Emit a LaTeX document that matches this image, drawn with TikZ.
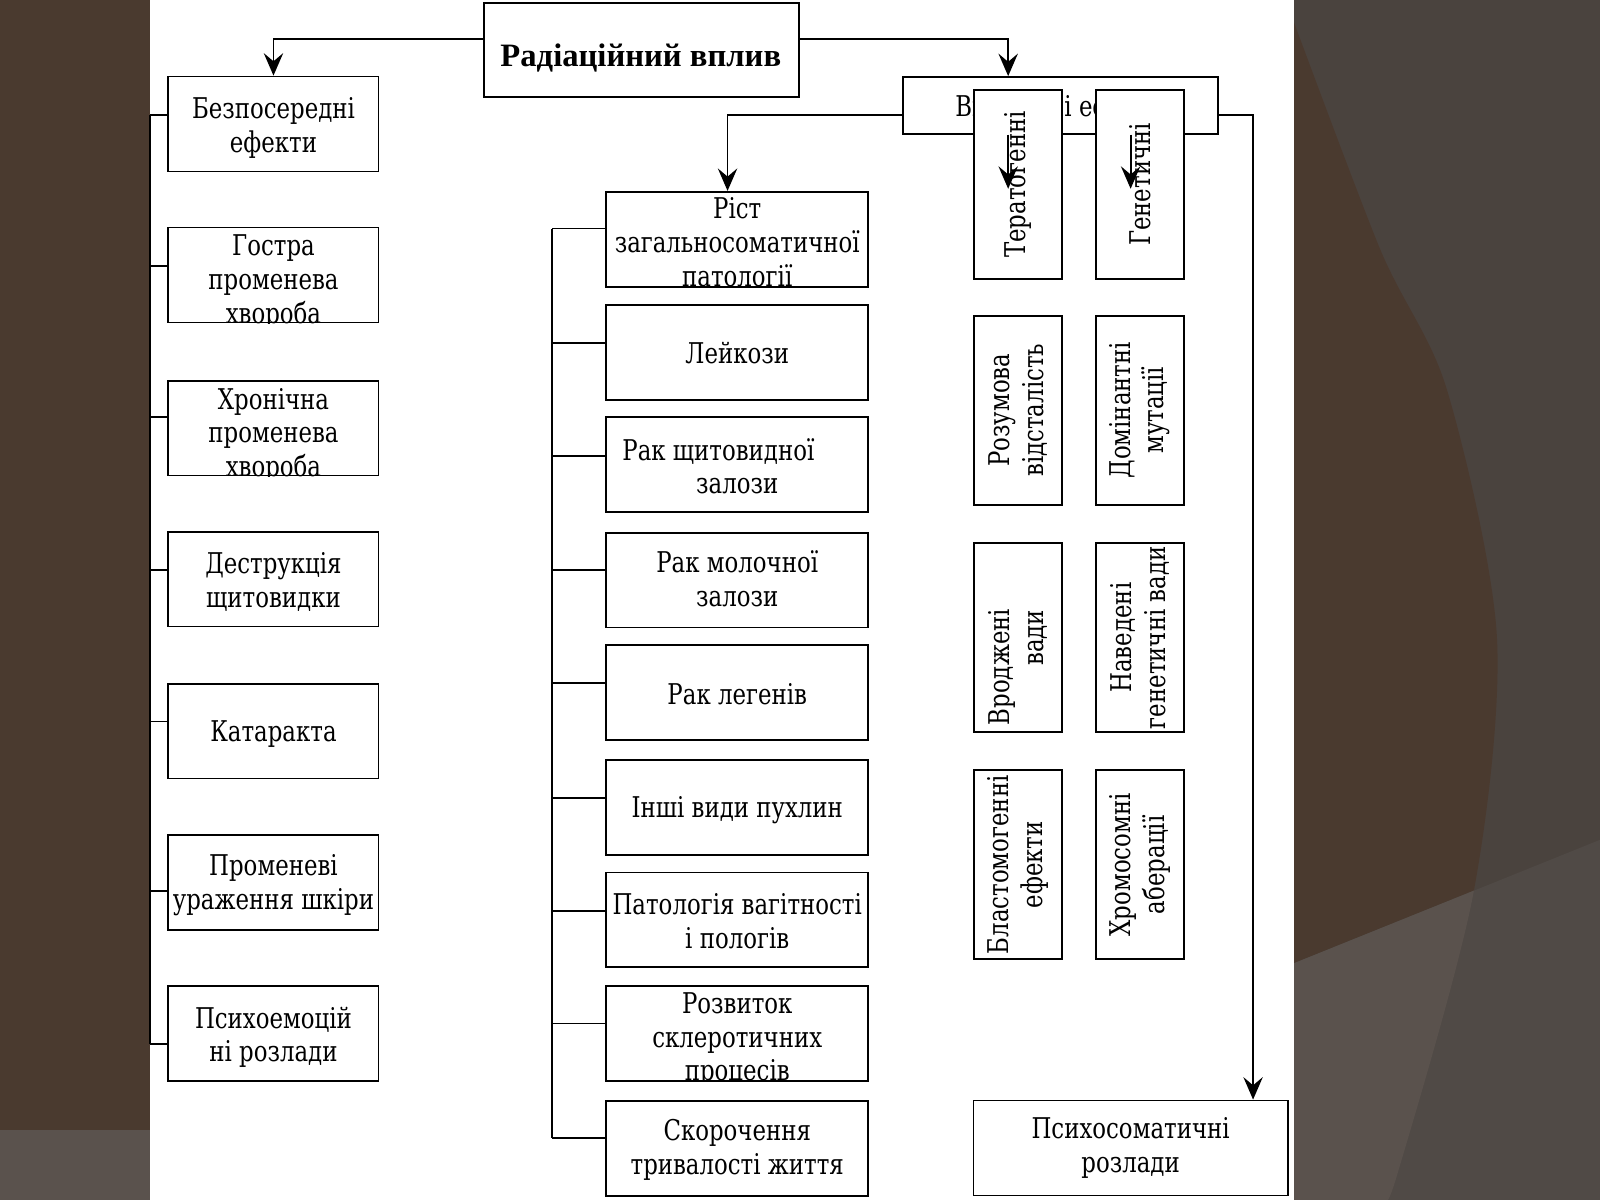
\documentclass[tikz,border=0pt]{standalone}
\usepackage{fontspec}
\setmainfont{DejaVu Serif}[FakeStretch=0.8]
\newfontfamily\titlefont{Liberation Serif}
\usetikzlibrary{arrows.meta}
\definecolor{bgbrown}{HTML}{4A3A2F}
\definecolor{bggrey}{HTML}{4A433E}
\definecolor{bglow}{HTML}{5A524D}
\definecolor{bglowr}{HTML}{504A46}
\newcommand\boxtext[4]{%
  \begin{scope}
    \clip (#1.south west) rectangle (#1.north east);
    \node[tx,#3] (#2) at (#1.center) {#4};
  \end{scope}}
\begin{document}
\begin{tikzpicture}[x=0.5pt,y=-0.5pt,
  bx/.style={draw=black, line width=0.9pt, fill=white, inner sep=0pt},
  lb/.style={bx, minimum width=103pt, minimum height=46.5pt},
  mb/.style={bx, minimum width=128.5pt, minimum height=46.5pt},
  vb/.style={bx, minimum width=43pt, minimum height=92.5pt},
  tx/.style={font=\fontsize{14pt}{16.5pt}\selectfont, align=center, inner sep=0pt},
  conn/.style={line width=0.9pt},
  arr/.style={conn, -{Stealth[length=11pt,width=9.5pt,inset=4pt]}}]
\useasboundingbox (0,0) rectangle (1568,1176);
% background
\fill[bgbrown] (0,0) rectangle (147,1107);
\fill[bglow] (0,1107) rectangle (147,1176);
\fill[bggrey] (1268,0) rectangle (1568,1176);
\fill[bgbrown] (1268,0) -- plot[smooth] coordinates {(1260,0) (1352,243) (1418,382) (1467,625) (1444,875) (1369,1152) (1355,1176)} -- (1268,1176) -- cycle;
\fill[bglowr] (1268,944) -- (1568,823) -- (1568,1176) -- (1268,1176) -- cycle;
\begin{scope}
  \clip (1268,944) -- (1568,823) -- (1568,1176) -- (1268,1176) -- cycle;
  \fill[bglow] (1268,0) -- plot[smooth] coordinates {(1260,0) (1352,243) (1418,382) (1467,625) (1444,875) (1369,1152) (1355,1176)} -- (1268,1176) -- cycle;
\end{scope}
\fill[white] (147,0) rectangle (1268,1176);
% title
\node[bx, minimum width=154.5pt, minimum height=46pt] (top) at (628.5,49) {};
\node[tx, font=\titlefont\bfseries\fontsize{16pt}{18pt}\selectfont, anchor=base] (toptx) at (628,65) {Радіаційний вплив};
% left column
\node[lb] (l1) at (268,121.5) {};
\node[lb] (l2) at (268,269.5) {};
\node[lb] (l3) at (268,419.5) {};
\node[lb] (l4) at (268,567.5) {};
\node[lb] (l5) at (268,716.5) {};
\node[lb] (l6) at (268,864.5) {};
\node[lb] (l7) at (268,1012.5) {};
\boxtext{l1}{l1t}{yshift=-2pt}{Безпосередні\\ефекти}
\boxtext{l2}{l2t}{yshift=-3.5pt}{Гостра\\променева\\хвороба}
\boxtext{l3}{l3t}{yshift=-3.5pt}{Хронічна\\променева\\хвороба}
\boxtext{l4}{l4t}{yshift=-1.5pt}{Деструкція\\щитовидки}
\boxtext{l5}{l5t}{yshift=-1.5pt}{Катаракта}
\boxtext{l6}{l6t}{yshift=-1.5pt}{Променеві\\ураження шкіри}
\boxtext{l7}{l7t}{yshift=-2pt}{Психоемоцій\\ні розлади}
% middle column
\node[mb] (m1) at (722.5,234.5) {};
\node[mb] (m2) at (722.5,345.5) {};
\node[mb] (m3) at (722.5,455.5) {};
\node[mb] (m4) at (722.5,568.5) {};
\node[mb] (m5) at (722.5,678.5) {};
\node[mb] (m6) at (722.5,791.5) {};
\node[mb] (m7) at (722.5,901.5) {};
\node[mb] (m8) at (722.5,1012.5) {};
\node[mb] (m9) at (722.5,1125.5) {};
\boxtext{m1}{m1t}{yshift=-1.5pt}{Ріст\\загальносоматичної\\патології}
\boxtext{m2}{m2t}{}{Лейкози}
\boxtext{m3}{m3t}{yshift=-0.75pt}{Рак щитовидної\hspace{18.5pt}\mbox{}\\залози}
\boxtext{m4}{m4t}{yshift=0.5pt}{Рак молочної\\залози}
\boxtext{m5}{m5t}{yshift=-1pt}{Рак легенів}
\boxtext{m6}{m6t}{yshift=-1.25pt}{Інші види пухлин}
\boxtext{m7}{m7t}{yshift=-0.75pt}{Патологія вагітності\\і пологів}
\boxtext{m8}{m8t}{yshift=-3.25pt}{Розвиток\\склеротичних\\процесів}
\boxtext{m9}{m9t}{yshift=-0.75pt}{Скорочення\\тривалості життя}
% right part
\node[bx, minimum width=154.5pt, minimum height=27.75pt] (vid) at (1039.5,103.25) {};
\node[tx, yshift=-1.8pt] (vidt) at (vid.center) {Віддалені ефекти};
\node[vb] (ter) at (997.5,180.75) {};
\node[vb] (gen) at (1117,180.75) {};
\node[vb] (roz) at (997.5,402) {};
\node[vb] (dom) at (1117,402) {};
\node[vb] (vro) at (997.5,625) {};
\node[vb] (nav) at (1117,625) {};
\node[vb] (bla) at (997.5,847.5) {};
\node[vb] (hro) at (1117,847.5) {};
\boxtext{ter}{tert}{rotate=90}{Тератогенні}
\boxtext{gen}{gent}{rotate=90}{Генетичні}
\boxtext{roz}{rozt}{rotate=90}{Розумова\\відсталість}
\boxtext{dom}{domt}{rotate=90}{Домінантні\\мутації}
\boxtext{vro}{vrot}{rotate=90}{Вроджені\hspace{28.7pt}\mbox{}\\вади}
\boxtext{nav}{navt}{rotate=90}{Наведені\\генетичні вади}
\boxtext{bla}{blat}{rotate=90}{Бластомогенні\\ефекти}
\boxtext{hro}{hrot}{rotate=90}{Хромосомні\\аберації}
\node[bx, minimum width=154pt, minimum height=46.5pt] (psy) at (1108,1125) {};
\boxtext{psy}{psyt}{}{Психосоматичні\\розлади}
% connectors
\draw[arr] ([yshift=5.5pt]top.west) -| (l1.north);
\draw[arr] ([yshift=5.5pt]top.east) -| ([xshift=-25.75pt]vid.north);
\draw[arr] ([yshift=-4.875pt]vid.west) -| ([xshift=-4.75pt]m1.north);
\draw[arr] ([yshift=-4.875pt]vid.east) -| ([xshift=60pt]psy.north);
\coordinate (tarr) at (988,185);
\coordinate (garr) at (1108,185);
\draw[arr] ([xshift=-25.75pt]vid.south) -- (tarr);
\draw[arr] ([xshift=34.25pt]vid.south) -- (garr);
% left bus
\draw[conn] ([yshift=4.25pt]l1.west) -- ++(-17,0) coordinate (lb1);
\draw[conn] ([yshift=4.25pt]l2.west) -- ++(-17,0) coordinate (lb2);
\draw[conn] ([yshift=5.45pt]l3.west) -- ++(-17,0) coordinate (lb3);
\draw[conn] ([yshift=4.25pt]l4.west) -- ++(-17,0) coordinate (lb4);
\draw[conn] ([yshift=4.75pt]l5.west) -- ++(-17,0) coordinate (lb5);
\draw[conn] ([yshift=-4.25pt]l6.west) -- ++(-17,0) coordinate (lb6);
\draw[conn] ([yshift=-5.25pt]l7.west) -- ++(-17,0) coordinate (lb7);
\draw[conn] (lb1) -- (lb7);
% middle bus
\draw[conn] ([yshift=5.25pt]m1.west) -- ++(-52,0) coordinate (mb1);
\draw[conn] ([yshift=4.5pt]m2.west) -- ++(-52,0) coordinate (mb2);
\draw[conn] ([yshift=4.25pt]m3.west) -- ++(-52,0) coordinate (mb3);
\draw[conn] ([yshift=4.75pt]m4.west) -- ++(-52,0) coordinate (mb4);
\draw[conn] ([yshift=4.75pt]m5.west) -- ++(-52,0) coordinate (mb5);
\draw[conn] ([yshift=4.75pt]m6.west) -- ++(-52,0) coordinate (mb6);
\draw[conn] ([yshift=4.25pt]m7.west) -- ++(-52,0) coordinate (mb7);
\draw[conn] ([yshift=4.75pt]m8.west) -- ++(-52,0) coordinate (mb8);
\draw[conn] ([yshift=5pt]m9.west) -- ++(-52,0) coordinate (mb9);
\draw[conn] (mb1) -- (mb9);
\end{tikzpicture}
\end{document}
